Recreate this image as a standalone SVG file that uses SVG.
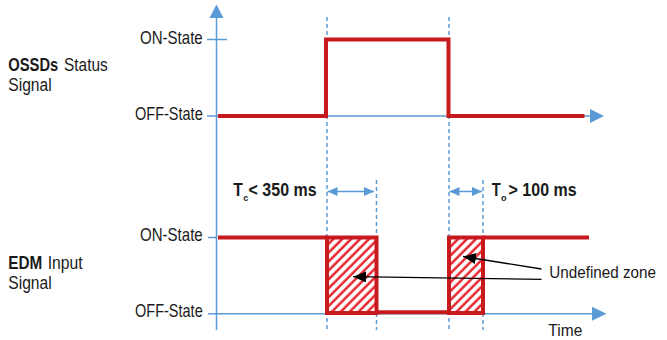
<svg xmlns="http://www.w3.org/2000/svg" width="667" height="340" viewBox="0 0 667 340">
<style>
text{font-family:"Liberation Sans",Arial,sans-serif;fill:#1a1a1a}
.st{font-size:18.5px}
.lb{font-size:17.5px}
.b{font-weight:bold}
.sub{font-size:9px;font-weight:bold}
.ax{stroke:#5b9bd5;stroke-width:1.5;fill:none}
.dash{stroke:#5b9bd5;stroke-width:1.5;stroke-dasharray:4 3;fill:none}
.sig{stroke:#c8191f;stroke-width:4;fill:none;stroke-linejoin:miter}
.box{stroke:#c8191f;stroke-width:4;fill:url(#hatch)}
.dim{stroke:#5b9bd5;stroke-width:1.5;fill:none;marker-start:url(#bh);marker-end:url(#bh)}
.call{stroke:#000;stroke-width:1.3;fill:none;marker-end:url(#kh)}
</style>
<defs>
<pattern id="hatch" patternUnits="userSpaceOnUse" width="6.3" height="6.3" patternTransform="rotate(45)">
<rect width="6.3" height="6.3" fill="#fff"/>
<line x1="1.5" y1="0" x2="1.5" y2="6.3" stroke="#e8282f" stroke-width="2.5"/>
</pattern>
<marker id="bh" markerUnits="userSpaceOnUse" markerWidth="11" markerHeight="9" refX="10" refY="4.5" orient="auto-start-reverse" viewBox="0 0 11 9">
<path d="M0,0 L10,4.5 L0,9 z" fill="#5b9bd5"/>
</marker>
<marker id="kh" markerUnits="userSpaceOnUse" markerWidth="14" markerHeight="11" refX="13" refY="5.5" orient="auto" viewBox="0 0 14 11">
<path d="M0,0 L13,5.5 L0,11 z" fill="#000"/>
</marker>
</defs>

<g id="axes">
<line class="ax" x1="216.5" y1="16" x2="216.5" y2="330"/>
<path d="M209.5,18 L216.5,4.5 L223.5,18 z" fill="#5b9bd5"/>
<line class="ax" x1="216.5" y1="116" x2="592" y2="116"/>
<path d="M590,109 L604,116 L590,123 z" fill="#5b9bd5"/>
<line class="ax" x1="216.5" y1="313.8" x2="594" y2="313.8"/>
<path d="M592,306.8 L606.5,313.8 L592,320.8 z" fill="#5b9bd5"/>
<line class="ax" x1="207" y1="39.5" x2="227" y2="39.5"/>
<line class="ax" x1="207" y1="116" x2="216.5" y2="116"/>
<line class="ax" x1="208" y1="237.5" x2="216.5" y2="237.5"/>
<line class="ax" x1="208" y1="313.8" x2="216.5" y2="313.8"/>
</g>

<g id="guides">
<line class="dash" x1="327" y1="17" x2="327" y2="330"/>
<line class="dash" x1="449" y1="17" x2="449" y2="330"/>
<line class="dash" x1="376.5" y1="180" x2="376.5" y2="330"/>
<line class="dash" x1="483" y1="180" x2="483" y2="330"/>
</g>

<g id="ossd-signal">
<path class="sig" d="M218,116 H326 V39.5 H448.5 V116 H584.5"/>
</g>

<g id="edm-signal">
<path class="sig" d="M218,237.5 H327"/>
<path class="sig" d="M376.5,312.3 H449"/>
<path class="sig" d="M483,237.5 H589"/>
<rect id="zone1" class="box" x="327" y="237.5" width="49.5" height="75.5"/>
<rect id="zone2" class="box" x="449" y="237.5" width="34" height="75.5"/>
</g>

<g id="connectors">
<line class="dim" x1="327.5" y1="191.5" x2="374" y2="191.5"/>
<line class="dim" x1="449.5" y1="191.5" x2="482" y2="191.5"/>
<line class="call" x1="541.5" y1="279.3" x2="353" y2="276.7"/>
<line class="call" x1="541.5" y1="269" x2="463" y2="256.5"/>
</g>

<g id="label-ossd">
<text class="lb b" x="8.3" y="70.5" textLength="50" lengthAdjust="spacingAndGlyphs">OSSDs</text>
<text class="lb" x="64" y="70.5" textLength="43.7" lengthAdjust="spacingAndGlyphs">Status</text>
<text class="lb" x="8.3" y="91" textLength="43.4" lengthAdjust="spacingAndGlyphs">Signal</text>
</g>
<g id="label-edm">
<text class="lb b" x="8.3" y="268.5" textLength="34" lengthAdjust="spacingAndGlyphs">EDM</text>
<text class="lb" x="47.7" y="268.5" textLength="35" lengthAdjust="spacingAndGlyphs">Input</text>
<text class="lb" x="8.3" y="288.5" textLength="43.4" lengthAdjust="spacingAndGlyphs">Signal</text>
</g>
<g id="state-labels">
<text class="st" x="140" y="44" textLength="62.7" lengthAdjust="spacingAndGlyphs">ON-State</text>
<text class="st" x="135" y="119.5" textLength="67.7" lengthAdjust="spacingAndGlyphs">OFF-State</text>
<text class="st" x="140" y="240.7" textLength="62.7" lengthAdjust="spacingAndGlyphs">ON-State</text>
<text class="st" x="135" y="316.7" textLength="67.7" lengthAdjust="spacingAndGlyphs">OFF-State</text>
</g>
<g id="label-tc">
<text class="lb b" x="233.3" y="196" textLength="9.6" lengthAdjust="spacingAndGlyphs">T</text>
<text class="sub" x="243.2" y="201">c</text>
<text class="lb b" x="248.6" y="196" textLength="68" lengthAdjust="spacingAndGlyphs">&lt; 350 ms</text>
</g>
<g id="label-to">
<text class="lb b" x="491.7" y="196" textLength="9" lengthAdjust="spacingAndGlyphs">T</text>
<text class="sub" x="501" y="201">o</text>
<text class="lb b" x="508.6" y="196" textLength="68" lengthAdjust="spacingAndGlyphs">&gt; 100 ms</text>
</g>
<g id="label-undefined">
<text x="549.3" y="278.3" style="font-size:16.5px" textLength="106.7" lengthAdjust="spacingAndGlyphs">Undefined zone</text>
</g>
<g id="label-time">
<text x="548.3" y="335.7" style="font-size:16.5px" textLength="34" lengthAdjust="spacingAndGlyphs">Time</text>
</g>
</svg>
